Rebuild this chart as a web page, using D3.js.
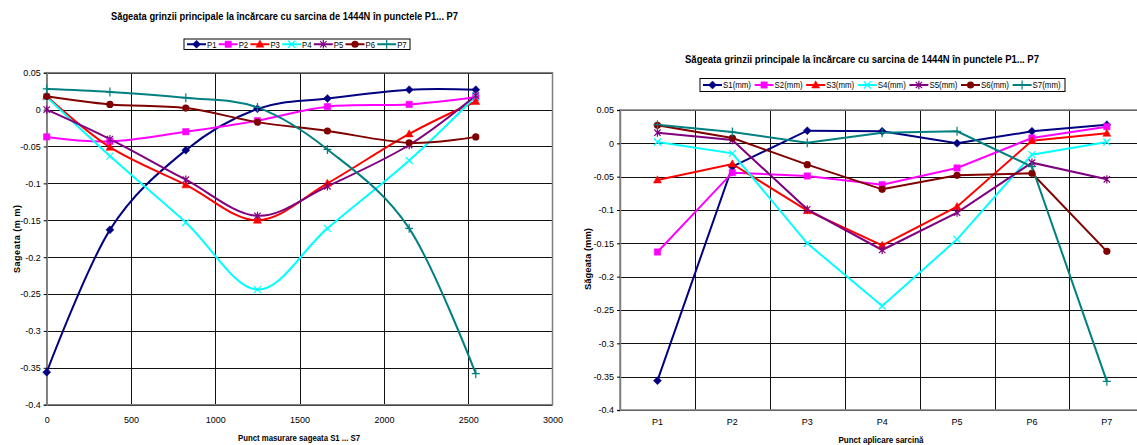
<!DOCTYPE html>
<html>
<head>
<meta charset="utf-8">
<script src="https://cdn.jsdelivr.net/npm/d3@7"></script>
<style>
body { margin: 0; background: #fff; }
svg { display: block; font-family: "Liberation Sans", Arial, sans-serif; }
</style>
</head>
<body>
<svg id="chart" width="1137" height="445"></svg>
<script>
// ---- left chart: deflection measured at S1..S7 for each load point P1..P7
const positions = [0, 375, 825, 1250, 1665, 2150, 2545];
const loadNames = ["P1", "P2", "P3", "P4", "P5", "P6", "P7"];
const defP1 = [-0.356, -0.163, -0.055, 0.001, 0.015, 0.027, 0.027];
const defP2 = [-0.037, -0.043, -0.030, -0.015, 0.004, 0.007, 0.017];
const defP3 = [0.018, -0.051, -0.102, -0.150, -0.100, -0.033, 0.011];
const defP4 = [0.017, -0.063, -0.153, -0.244, -0.161, -0.069, 0.018];
const defP5 = [0.000, -0.040, -0.095, -0.144, -0.104, -0.048, 0.019];
const defP6 = [0.018, 0.007, 0.002, -0.017, -0.029, -0.045, -0.037];
const defP7 = [0.028, 0.024, 0.016, 0.003, -0.054, -0.161, -0.358];
const xTicksLeft = [0, 500, 1000, 1500, 2000, 2500, 3000];

// ---- right chart: deflection at S1..S7 for load at P1..P7
const pointNames = ["P1", "P2", "P3", "P4", "P5", "P6", "P7"];
const sensorNames = ["S1(mm)", "S2(mm)", "S3(mm)", "S4(mm)", "S5(mm)", "S6(mm)", "S7(mm)"];
const defS1 = [-0.356, -0.035, 0.019, 0.018, 0.000, 0.018, 0.028];
const defS2 = [-0.163, -0.044, -0.049, -0.062, -0.037, 0.008, 0.025];
const defS3 = [-0.055, -0.031, -0.101, -0.153, -0.095, 0.004, 0.015];
const defS4 = [0.002, -0.015, -0.150, -0.244, -0.144, -0.017, 0.002];
const defS5 = [0.016, 0.005, -0.099, -0.160, -0.104, -0.029, -0.054];
const defS6 = [0.027, 0.008, -0.032, -0.069, -0.048, -0.045, -0.162];
const defS7 = [0.028, 0.017, 0.001, 0.016, 0.018, -0.035, -0.357];

const yTicks = [0.05, 0, -0.05, -0.1, -0.15, -0.2, -0.25, -0.3, -0.35, -0.4];
const colors = ["#000080", "#ff00ff", "#ff0000", "#00ffff", "#800080", "#800000", "#008080"];
const shapes = ["diamond", "square", "triangle", "cross", "star", "circle", "plus"];

const titleText = "Săgeata grinzii principale la încărcare cu sarcina de 1444N în punctele P1... P7";

const svg = d3.select("#chart");

const markerPath = {
    diamond: "M0,-4L4,0L0,4L-4,0Z",
    square: "M-3.2,-3.2H3.2V3.2H-3.2Z",
    triangle: "M0,-4.2L4,3H-4Z",
    cross: "M-3.5,-3.5L3.5,3.5M-3.5,3.5L3.5,-3.5",
    star: "M-3.2,-3.2L3.2,3.2M-3.2,3.2L3.2,-3.2M0,-4.2V4.2",
    plus: "M-4,0H4M0,-4.5V4.5"
};
const filled = { diamond: true, square: true, triangle: true, circle: true };

function addMarker(g, shape, color) {
    if (shape === "circle") {
        return g.append("circle").attr("r", 3.6).attr("fill", color);
    }
    return g.append("path")
        .attr("d", markerPath[shape])
        .attr("fill", filled[shape] ? color : "none")
        .attr("stroke", color)
        .attr("stroke-width", filled[shape] ? 0.5 : 1.2);
}

function drawLegend(box, names, pitch, lineLen, textLen) {
    const g = svg.append("g");
    g.append("rect")
        .attr("x", box.x).attr("y", box.y)
        .attr("width", box.w).attr("height", box.h)
        .attr("fill", "#fff").attr("stroke", "#000").attr("stroke-width", 1);
    const cy = box.y + box.h / 2;
    names.forEach((name, i) => {
        const x0 = box.x + 3 + i * pitch;
        g.append("line")
            .attr("x1", x0).attr("x2", x0 + lineLen)
            .attr("y1", cy).attr("y2", cy)
            .attr("stroke", colors[i]).attr("stroke-width", 2);
        addMarker(g.append("g").attr("transform", `translate(${x0 + lineLen / 2},${cy})`), shapes[i], colors[i]);
        g.append("text")
            .attr("x", x0 + lineLen + 1).attr("y", cy + 3.3)
            .attr("font-size", 9)
            .attr("textLength", textLen).attr("lengthAdjust", "spacingAndGlyphs")
            .text(name);
    });
}

function drawFrame(x, y, plot, vGrid) {
    const g = svg.append("g");
    // horizontal grid
    g.selectAll(".hg").data(yTicks).enter().append("line")
        .attr("x1", plot.left).attr("x2", plot.right)
        .attr("y1", d => Math.round(y(d)) + 0.5).attr("y2", d => Math.round(y(d)) + 0.5)
        .attr("stroke", "#111").attr("stroke-width", 1);
    // vertical grid
    g.selectAll(".vg").data(vGrid).enter().append("line")
        .attr("x1", d => Math.round(d) + 0.5).attr("x2", d => Math.round(d) + 0.5)
        .attr("y1", plot.top).attr("y2", plot.bottom)
        .attr("stroke", "#111").attr("stroke-width", 1);
    // zero axis ticks
    g.selectAll(".zt").data(vGrid).enter().append("line")
        .attr("x1", d => Math.round(d) + 0.5).attr("x2", d => Math.round(d) + 0.5)
        .attr("y1", y(0)).attr("y2", y(0) + 3)
        .attr("stroke", "#000");
    // plot border
    g.append("rect")
        .attr("x", plot.left).attr("y", plot.top)
        .attr("width", plot.right - plot.left).attr("height", plot.bottom - plot.top)
        .attr("fill", "none").attr("stroke", "#808080").attr("stroke-width", 1.5);

    // y axis labels
    svg.append("g")
        .attr("transform", `translate(${plot.left},0)`)
        .call(d3.axisLeft(y).tickValues(yTicks).tickSize(3).tickPadding(3).tickFormat(d => String(d)))
        .call(a => a.select(".domain").attr("stroke", "#808080").attr("stroke-width", 1.5))
        .call(a => a.selectAll("text").attr("font-size", 9).attr("fill", "#000").attr("font-family", "Liberation Sans, Arial, sans-serif"));
}

// ================= LEFT CHART =================
const plotL = { left: 46.7, right: 552.5, top: 72.7, bottom: 404.7 };
const xL = d3.scaleLinear().domain([0, 3000]).range([plotL.left, plotL.right]);
const yL = d3.scaleLinear().domain([-0.4, 0.05]).range([plotL.bottom, plotL.top]);

drawFrame(xL, yL, plotL, xTicksLeft.slice(1, -1).map(d => xL(d)));

svg.append("g")
    .attr("transform", `translate(0,${plotL.bottom})`)
    .call(d3.axisBottom(xL).tickValues(xTicksLeft).tickSize(0).tickPadding(12).tickFormat(d => String(d)))
    .call(a => a.select(".domain").remove())
    .call(a => a.selectAll("text").attr("font-size", 9).attr("fill", "#000").attr("font-family", "Liberation Sans, Arial, sans-serif"));

const leftSeries = [defP1, defP2, defP3, defP4, defP5, defP6, defP7];
const smoothLine = d3.line()
    .x((d, i) => xL(positions[i]))
    .y(d => yL(d))
    .curve(d3.curveCardinal.tension(0));

leftSeries.forEach((vals, s) => {
    svg.append("path")
        .attr("d", smoothLine(vals))
        .attr("fill", "none")
        .attr("stroke", colors[s])
        .attr("stroke-width", 2);
});
leftSeries.forEach((vals, s) => {
    svg.append("g").selectAll("g").data(vals).enter().append("g")
        .attr("transform", (d, i) => `translate(${xL(positions[i])},${yL(d)})`)
        .each(function () { addMarker(d3.select(this), shapes[s], colors[s]); });
});

svg.append("text")
    .attr("x", 284.5).attr("y", 19.5)
    .attr("text-anchor", "middle")
    .attr("font-size", 10.5).attr("font-weight", "bold")
    .attr("textLength", 347).attr("lengthAdjust", "spacingAndGlyphs")
    .text(titleText);

drawLegend({ x: 184, y: 39, w: 226, h: 10.5 }, loadNames, 31.7, 19, 9.5);

svg.append("text")
    .attr("x", 299).attr("y", 441)
    .attr("text-anchor", "middle")
    .attr("font-size", 9).attr("font-weight", "bold")
    .attr("textLength", 122).attr("lengthAdjust", "spacingAndGlyphs")
    .text("Punct masurare sageata S1 ... S7");

svg.append("text")
    .attr("transform", "translate(20,239) rotate(-90)")
    .attr("text-anchor", "middle")
    .attr("font-size", 9).attr("font-weight", "bold")
    .attr("textLength", 68).attr("lengthAdjust", "spacing")
    .text("Sageata (m m)");

// ================= RIGHT CHART =================
const plotR = { left: 620, right: 620 + 7 * 74.9, top: 110, bottom: 410 };
const xR = d3.scaleBand().domain(pointNames).range([plotR.left, plotR.right]);
const yR = d3.scaleLinear().domain([-0.4, 0.05]).range([plotR.bottom, plotR.top]);

drawFrame(xR, yR, plotR, pointNames.slice(1).map(d => xR(d)));

svg.append("g")
    .attr("transform", `translate(0,${plotR.bottom})`)
    .call(d3.axisBottom(xR).tickSize(0).tickPadding(9))
    .call(a => a.select(".domain").remove())
    .call(a => a.selectAll("text").attr("font-size", 9).attr("fill", "#000").attr("font-family", "Liberation Sans, Arial, sans-serif"));

const rightSeries = [defS1, defS2, defS3, defS4, defS5, defS6, defS7];
const straightLine = d3.line()
    .x((d, i) => xR(pointNames[i]) + xR.bandwidth() / 2)
    .y(d => yR(d));

rightSeries.forEach((vals, s) => {
    svg.append("path")
        .attr("d", straightLine(vals))
        .attr("fill", "none")
        .attr("stroke", colors[s])
        .attr("stroke-width", 2);
});
rightSeries.forEach((vals, s) => {
    svg.append("g").selectAll("g").data(vals).enter().append("g")
        .attr("transform", (d, i) => `translate(${xR(pointNames[i]) + xR.bandwidth() / 2},${yR(d)})`)
        .each(function () { addMarker(d3.select(this), shapes[s], colors[s]); });
});

svg.append("text")
    .attr("x", 862).attr("y", 63)
    .attr("text-anchor", "middle")
    .attr("font-size", 10.5).attr("font-weight", "bold")
    .attr("textLength", 354).attr("lengthAdjust", "spacingAndGlyphs")
    .text(titleText);

drawLegend({ x: 700, y: 78.5, w: 365, h: 13 }, sensorNames, 51.6, 19, 28);

svg.append("text")
    .attr("x", 881).attr("y", 443)
    .attr("text-anchor", "middle")
    .attr("font-size", 9).attr("font-weight", "bold")
    .attr("textLength", 85).attr("lengthAdjust", "spacingAndGlyphs")
    .text("Punct aplicare sarcină");

svg.append("text")
    .attr("transform", "translate(591,259) rotate(-90)")
    .attr("text-anchor", "middle")
    .attr("font-size", 9).attr("font-weight", "bold")
    .attr("textLength", 62).attr("lengthAdjust", "spacingAndGlyphs")
    .text("Săgeata (mm)");
</script>
</body>
</html>
